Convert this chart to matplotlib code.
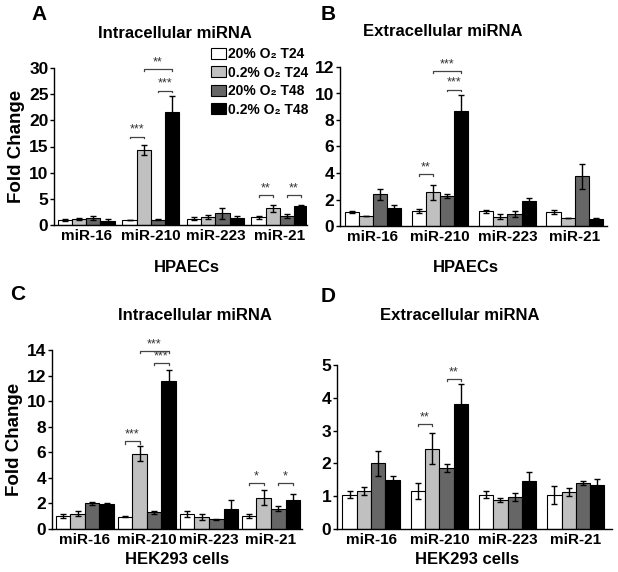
import matplotlib
matplotlib.use('Agg')
import matplotlib.pyplot as plt
from matplotlib.patches import Patch
import numpy as np

plt.rcParams['font.family'] = ['Liberation Sans', 'DejaVu Sans']
plt.rcParams['font.weight'] = 'bold'

categories = ['miR-16', 'miR-210', 'miR-223', 'miR-21']
series = ['20% O₂ T24', '0.2% O₂ T24', '20% O₂ T48', '0.2% O₂ T48']
colors = ['white', '#c0c0c0', '#666666', 'black']

# panel A: intracellular, HPAECs
a_mean = [[1.0, 1.0, 1.2, 1.5], [1.1, 14.3, 1.6, 3.2], [1.3, 1.0, 2.2, 1.7], [0.8, 21.5, 1.3, 3.6]]
a_err = [[0.15, 0.0, 0.3, 0.3], [0.15, 1.0, 0.4, 0.7], [0.35, 0.1, 1.0, 0.4], [0.3, 3.1, 0.5, 0.3]]
a_sig = [(1, 0, 1, 16.9, '***'), (1, 2, 3, 25.7, '***'), (1, 1, 3, 29.8, '**'),
         (3, 0, 1, 5.7, '**'), (3, 2, 3, 5.7, '**')]

# panel B: extracellular, HPAECs
b_mean = [[1.05, 1.1, 1.1, 1.05], [0.75, 2.55, 0.7, 0.6], [2.4, 2.25, 0.9, 3.75], [1.35, 8.65, 1.85, 0.55]]
b_err = [[0.1, 0.15, 0.1, 0.15], [0.0, 0.55, 0.2, 0.0], [0.4, 0.15, 0.2, 0.95], [0.2, 1.2, 0.3, 0.05]]
b_sig = [(1, 0, 1, 3.9, '**'), (1, 2, 3, 10.3, '***'), (1, 1, 3, 11.7, '***')]

# panel C: intracellular, HEK293
c_mean = [[1.0, 0.95, 1.15, 1.0], [1.2, 5.9, 0.95, 2.45], [2.0, 1.3, 0.75, 1.6], [1.95, 11.6, 1.6, 2.3]]
c_err = [[0.15, 0.05, 0.25, 0.15], [0.2, 0.6, 0.25, 0.6], [0.15, 0.1, 0.05, 0.2], [0.1, 0.8, 0.65, 0.4]]
c_sig = [(1, 0, 1, 6.85, '***'), (1, 2, 3, 13.0, '***'), (1, 1, 3, 13.9, '***'),
         (3, 0, 1, 3.6, '*'), (3, 2, 3, 3.6, '*')]

# panel D: extracellular, HEK293
d_mean = [[1.05, 1.15, 1.05, 1.03], [1.15, 2.45, 0.88, 1.12], [2.0, 1.85, 0.97, 1.4], [1.5, 3.8, 1.45, 1.33]]
d_err = [[0.12, 0.25, 0.12, 0.28], [0.12, 0.47, 0.07, 0.12], [0.37, 0.12, 0.12, 0.07], [0.13, 0.62, 0.28, 0.2]]
d_sig = [(1, 0, 1, 3.2, '**'), (1, 2, 3, 4.57, '**')]

W, H = 618, 572
fig = plt.figure(figsize=(W / 100, H / 100), dpi=100)


def box(l, r, t, b):
    return [l / W, 1 - b / H, (r - l) / W, (b - t) / H]


def panel(rect, mean, err, sig, ymax, step, width, xlim, ylabel):
    ax = fig.add_axes(rect)
    x = np.arange(len(categories))
    for i in range(4):
        pos = x + (i - 1.5) * width
        ax.bar(pos, mean[i], width, color=colors[i], edgecolor='black', linewidth=0.8, zorder=2)
        ax.errorbar(pos, mean[i], yerr=err[i], fmt='none', ecolor='black',
                    elinewidth=1, capsize=2.5, capthick=1, zorder=3)
    tick = ymax * 0.012
    for g, i, j, y, txt in sig:
        x0 = g + (i - 1.5) * width
        x1 = g + (j - 1.5) * width
        ax.plot([x0, x0, x1, x1], [y - tick, y, y, y - tick], color='#444444', lw=0.9, zorder=4)
        ax.text((x0 + x1) / 2, y + ymax * 0.004, txt, ha='center', va='bottom',
                fontsize=9, color='#333333', fontweight='normal')
    ax.set_ylim(0, ymax)
    ax.set_xlim(*xlim)
    ax.set_yticks(np.arange(0, ymax + 0.01, step))
    ax.set_xticks(x, categories)
    ax.tick_params(axis='x', length=0, labelsize=11, pad=3)
    ax.tick_params(axis='y', length=3, width=1, labelsize=12.5, pad=1)
    for s in ['top', 'right']:
        ax.spines[s].set_visible(False)
    for s in ['left', 'bottom']:
        ax.spines[s].set_linewidth(1)
    if ylabel:
        ax.set_ylabel('Fold Change', fontsize=13.5, fontweight='bold', labelpad=3)
    return ax


panel(box(54, 307, 68, 225), a_mean, a_err, a_sig, 30, 5, 0.22, (-0.5, 3.42), True)
panel(box(340, 607, 67, 226), b_mean, b_err, b_sig, 12, 2, 0.21, (-0.49, 3.48), False)
panel(box(52, 302, 350, 529), c_mean, c_err, c_sig, 14, 2, 0.235, (-0.53, 3.5), True)
panel(box(337, 612, 365, 529), d_mean, d_err, d_sig, 5, 1, 0.21, (-0.5, 3.53), False)

texts = [
    (39, 15, 'A', 15), (328, 15, 'B', 15), (18, 295, 'C', 15), (328, 297, 'D', 15),
    (175, 33, 'Intracellular miRNA', 12), (443, 32, 'Extracellular miRNA', 12),
    (195, 315, 'Intracellular miRNA', 12), (460, 315, 'Extracellular miRNA', 12),
    (187, 267, 'HPAECs', 12), (466, 267, 'HPAECs', 12),
    (177, 560, 'HEK293 cells', 12), (467, 560, 'HEK293 cells', 12),
]
for px, py, s, fs in texts:
    fig.text(px / W, 1 - py / H, s, ha='center', va='center', fontsize=fs, fontweight='bold')

handles = [Patch(facecolor=c, edgecolor='black', linewidth=0.8) for c in colors]
fig.legend(handles, series, loc='upper left', bbox_to_anchor=(211 / W, 1 - 47 / H),
           frameon=False, fontsize=10, handlelength=1.1, handleheight=0.85,
           handletextpad=0.1, labelspacing=0.33, borderaxespad=0, borderpad=0)

fig.savefig('out.png', dpi=100)
